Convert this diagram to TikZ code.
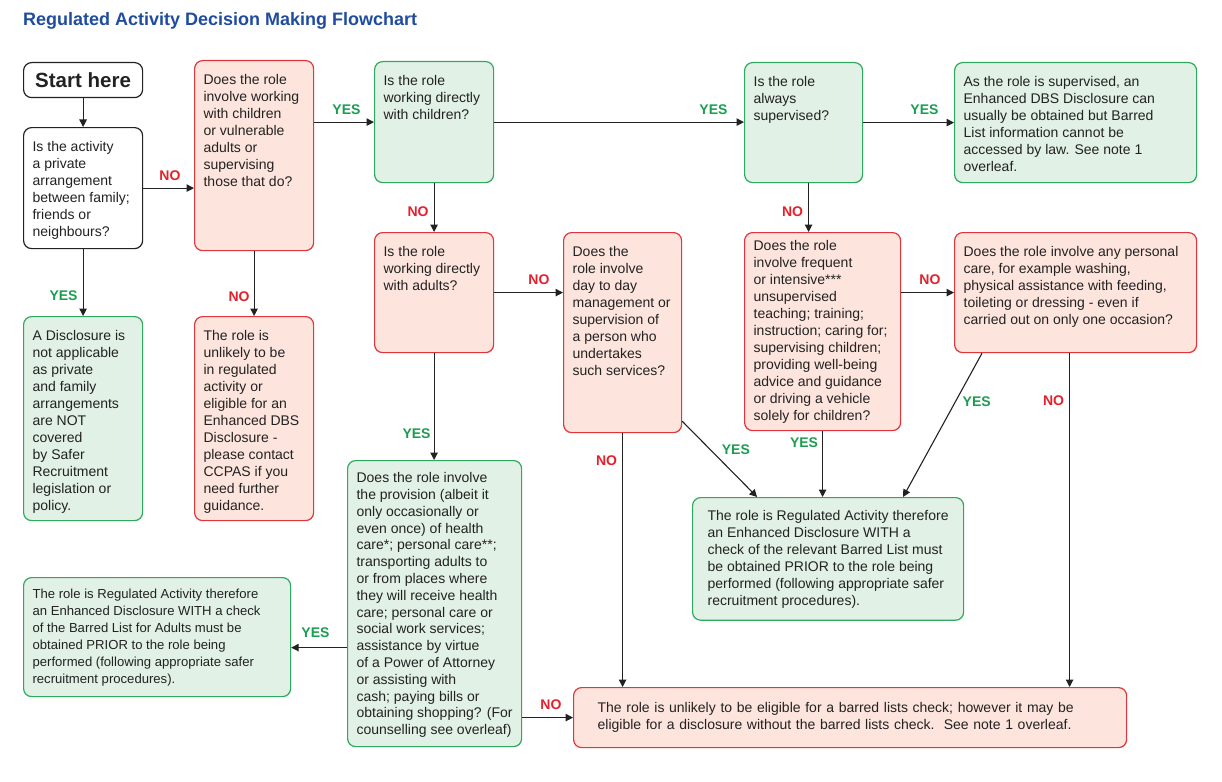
\documentclass[tikz,border=0pt]{standalone}
\usepackage{fontspec}
\setmainfont{Liberation Sans}
\usepackage{xcolor}
\usetikzlibrary{positioning,calc,arrows.meta}

\definecolor{boxred}{HTML}{E0353D}
\definecolor{fillred}{HTML}{FDE5DD}
\definecolor{boxgreen}{HTML}{2FA95E}
\definecolor{fillgreen}{HTML}{E2F1E5}
\definecolor{labgreen}{HTML}{1A9E50}
\definecolor{labred}{HTML}{E3202B}
\definecolor{titleblue}{HTML}{1F4C9E}
\definecolor{inkgrey}{HTML}{222222}

% text block of a box: width, height, lines
\newcommand{\boxtext}[3]{\parbox[c][#2pt][t]{#1pt}{\raggedright #3}}

\begin{document}
\begin{tikzpicture}[x=1pt,y=-1pt,
    base/.style={draw, rounded corners=8pt, line width=1.2pt, anchor=north west,
        inner xsep=9pt, inner ysep=13.5pt, text=inkgrey,
        font=\fontsize{14}{17}\selectfont},
    redbox/.style={base, draw=boxred, fill=fillred},
    greenbox/.style={base, draw=boxgreen, fill=fillgreen},
    plainbox/.style={base, draw=inkgrey, fill=white},
    arr/.style={-{Triangle[length=7.5pt,width=7.5pt]}, line width=1.1pt, inkgrey},
    yeslab/.style={text=labgreen, inner sep=2pt, font=\bfseries\fontsize{14}{14}\selectfont},
    nolab/.style={text=labred, inner sep=2pt, font=\bfseries\fontsize{14}{14}\selectfont},
    hlab/.style={anchor=south east, xshift=-11pt, yshift=5pt},
    vlab/.style={anchor=east, xshift=-3pt}
]
\useasboundingbox (0,0) rectangle (1222,781);

% Title
\node[anchor=west, text=titleblue, font=\bfseries\fontsize{18}{20}\selectfont] (title) at (19.5,21) {Regulated Activity Decision Making Flowchart};

% Left column
\node[plainbox, minimum width=119pt, minimum height=35pt, inner sep=0pt,
    font=\bfseries\fontsize{20.5}{22}\selectfont] (start) at (23,62) {Start here};
\node[plainbox] (q0) at (23,127) {\boxtext{101}{94}{Is the activity\\ a private\\ arrangement\\ between family;\\ friends or\\ neighbours?}};
\node[greenbox] (r2) at (23,316) {\boxtext{101}{177}{A Disclosure is\\ not applicable\\ as private\\ and family\\ arrangements\\ are NOT\\ covered\\ by Safer\\ Recruitment\\ legislation or\\ policy.}};

% Second column
\node[redbox] (q1) at (194,60) {\boxtext{101}{163}{Does the role\\ involve working\\ with children\\ or vulnerable\\ adults or\\ supervising\\ those that do?}};
\node[redbox] (r3) at (194,316) {\boxtext{101}{177}{The role is\\ unlikely to be\\ in regulated\\ activity or\\ eligible for an\\ Enhanced DBS\\ Disclosure -\\ please contact\\ CCPAS if you\\ need further\\ guidance.}};

% Children / adults
\node[greenbox] (q2) at (374,61) {\boxtext{101}{94}{Is the role\\ working directly\\ with children?}};
\node[redbox] (q4) at (374,232) {\boxtext{101}{93}{Is the role\\ working directly\\ with adults?}};
\node[greenbox, inner ysep=12pt, font=\fontsize{14}{16.8}\selectfont] (q8) at (347,460) {\boxtext{156}{262}{Does the role involve\\ the provision (albeit it\\ only occasionally or\\ even once) of health\\ care*; personal care**;\\ transporting adults to\\ or from places where\\ they will receive health\\ care; personal care or\\ social work services;\\ assistance by virtue\\ of a Power of Attorney\\ or assisting with\\ cash; paying bills or\\ obtaining shopping? (For\\ counselling see overleaf)}};
\node[greenbox, inner ysep=11.5pt, font=\fontsize{13.1}{17}\selectfont] (r4) at (23,577) {\boxtext{249}{96}{The role is Regulated Activity therefore\\ an Enhanced Disclosure WITH a check\\ of the Barred List for Adults must be\\ obtained PRIOR to the role being\\ performed (following appropriate safer\\ recruitment procedures).}};

% Right part
\node[redbox] (q5) at (563,232) {\boxtext{100}{173}{Does the\\ role involve\\ day to day\\ management or\\ supervision of\\ a person who\\ undertakes\\ such services?}};
\node[greenbox] (q3) at (744,62) {\boxtext{100}{93}{Is the role\\ always\\ supervised?}};
\node[greenbox] (r1) at (954,62) {\boxtext{224}{93}{As the role is supervised, an\\ Enhanced DBS Disclosure can\\ usually be obtained but Barred\\ List information cannot be\\ accessed by law. See note 1\\ overleaf.}};
\node[redbox, inner ysep=8pt] (q6) at (744,232) {\boxtext{138}{182}{Does the role\\ involve frequent\\ or intensive***\\ unsupervised\\ teaching; training;\\ instruction; caring for;\\ supervising children;\\ providing well-being\\ advice and guidance\\ or driving a vehicle\\ solely for children?}};
\node[redbox] (q7) at (954,232) {\boxtext{224}{93}{Does the role involve any personal\\ care, for example washing,\\ physical assistance with feeding,\\ toileting or dressing - even if\\ carried out on only one occasion?}};
\node[greenbox, inner xsep=15pt, inner ysep=12.8pt] (r5) at (692,497) {\boxtext{241}{97}{The role is Regulated Activity therefore\\ an Enhanced Disclosure WITH a\\ check of the relevant Barred List must\\ be obtained PRIOR to the role being\\ performed (following appropriate safer\\ recruitment procedures).}};
\node[redbox, minimum height=60pt, inner xsep=24pt, inner ysep=4pt, text width=505pt, align=left] (r6) at (573,687) {The role is unlikely to be eligible for a barred lists check; however it may be\\ eligible for a disclosure without the barred lists check.\ \ See note 1 overleaf.};

% Helper points
\coordinate (q3s) at ([xshift=5pt]q3.south);
\coordinate (q5d) at ([yshift=12pt]q5.south east);
\coordinate (r5a) at ([xshift=-71pt]r5.north);
\coordinate (q7d) at ([xshift=28pt]q7.south west);
\coordinate (r5b) at ([xshift=75pt]r5.north);
\coordinate (q7s) at ([xshift=-6pt]q7.south);
\coordinate (q8w) at ([yshift=-44pt]q8.west);

% Connectors
\draw[arr] (start) -- (q0);
\draw[arr] (q0.east) -- node[nolab, hlab, pos=1] {NO} (q0.east -| q1.west);
\draw[arr] (q1.east |- q2.west) -- node[yeslab, hlab, pos=1] {YES} (q2.west);
\draw[arr] (q2.east) -- node[yeslab, hlab, pos=1, xshift=-3pt] {YES} (q2.east -| q3.west);
\draw[arr] (q3.east) -- node[yeslab, hlab, pos=1, xshift=-2pt] {YES} (q3.east -| r1.west);
\draw[arr] (q0.south) -- node[yeslab, vlab, pos=0.7] {YES} (r2.north);
\draw[arr] (q1.south) -- node[nolab, vlab, pos=0.7, xshift=1pt] {NO} (r3.north);
\draw[arr] (q2.south) -- node[nolab, vlab, pos=0.58] {NO} (q4.north);
\draw[arr] (q3s) -- node[nolab, vlab, pos=0.58] {NO} (q3s |- q6.north);
\draw[arr] (q4.east) -- node[nolab, hlab, pos=1] {NO} (q4.east -| q5.west);
\draw[arr] (q7.west -| q6.east) -- node[nolab, hlab, pos=1] {NO} (q7.west);
\draw[arr] (q4.south) -- node[yeslab, vlab, pos=0.75, xshift=2pt] {YES} (q4.south |- q8.north);
\draw[arr] (q6.south) -- node[yeslab, vlab, pos=0.18, xshift=1pt] {YES} (q6.south |- r5.north);
\draw[arr] (q5d) -- node[yeslab, anchor=west, pos=0.375, xshift=9pt] {YES} (r5a);
\draw[arr] (q7d) -- node[yeslab, anchor=west, pos=0.34, xshift=5pt] {YES} (r5b);
\draw[arr] (q5.south) -- node[nolab, vlab, pos=0.11] {NO} (q5.south |- r6.north);
\draw[arr] (q7s) -- node[nolab, vlab, pos=0.143] {NO} (q7s |- r6.north);
\draw[arr] (q8w) -- node[yeslab, anchor=south east, pos=0, xshift=-15pt, yshift=7pt] {YES} (q8w -| r4.east);
\draw[arr] (r6.west -| q8.east) -- node[nolab, hlab, pos=1, xshift=2pt] {NO} (r6.west);
\end{tikzpicture}
\end{document}
